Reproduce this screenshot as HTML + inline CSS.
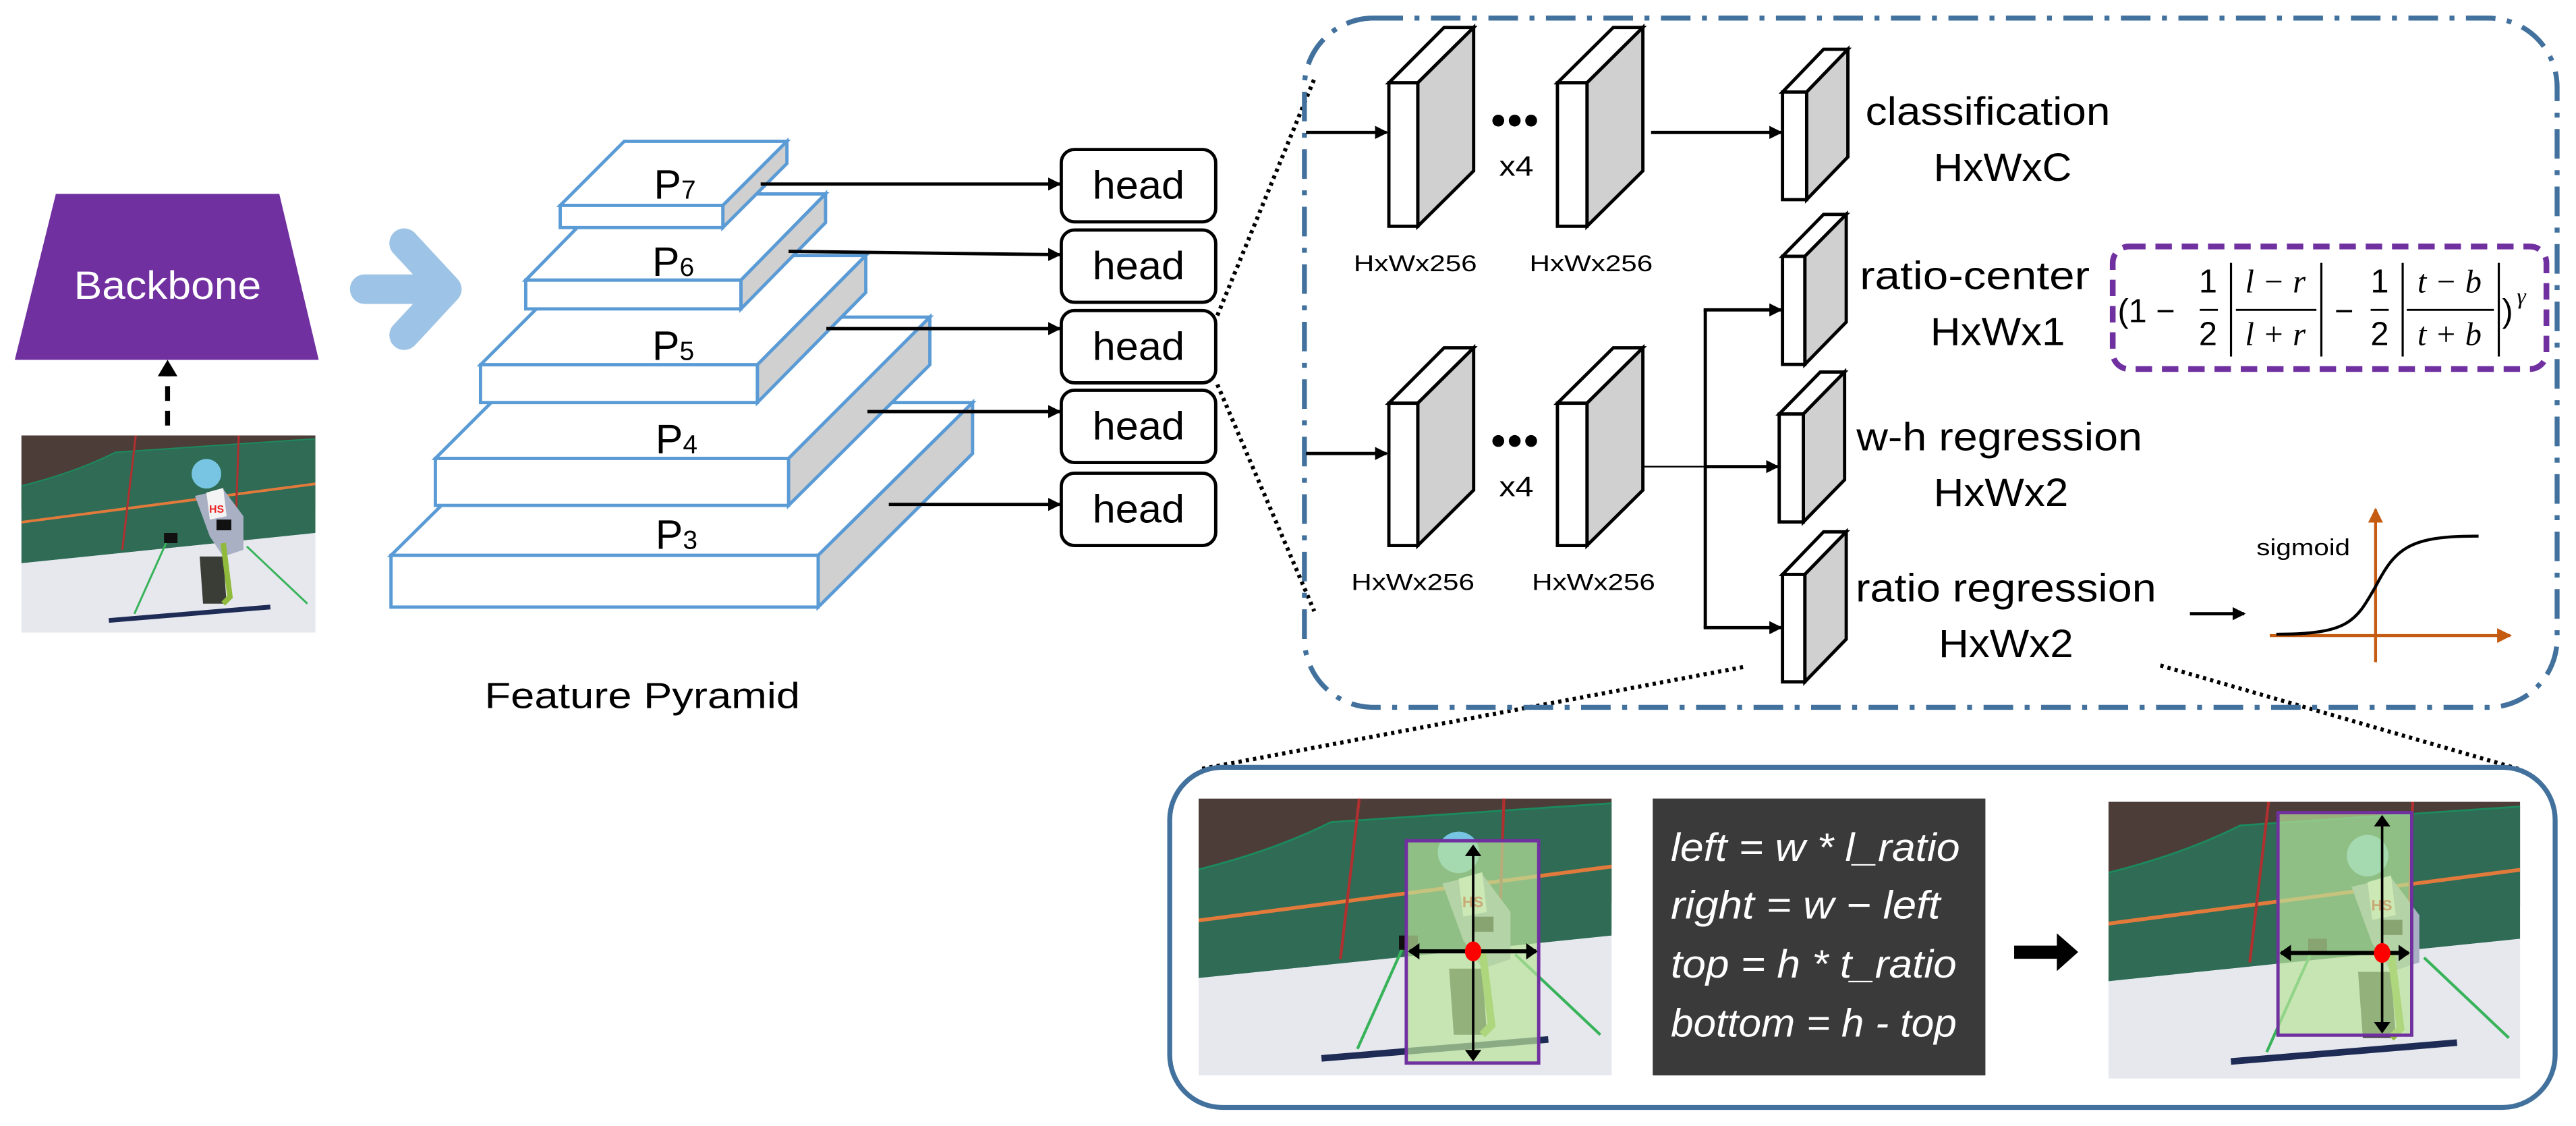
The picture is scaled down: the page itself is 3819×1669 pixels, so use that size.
<!DOCTYPE html>
<html><head><meta charset="utf-8"><style>
html,body{margin:0;padding:0;background:#fff;width:3819px;height:1669px;overflow:hidden;}
svg{display:block;}
text{font-family:"Liberation Sans",sans-serif;}
.it{font-family:"Liberation Serif",serif;font-style:italic;}
</style></head><body>
<svg width="3819" height="1669" viewBox="0 0 1568 685.3" preserveAspectRatio="none" xmlns="http://www.w3.org/2000/svg">
<defs>
<marker id="ah" markerWidth="8" markerHeight="8" refX="7" refY="4" orient="auto" markerUnits="userSpaceOnUse"><path d="M0,0 L8,4 L0,8 Z" fill="#000"/></marker>
<marker id="ahs" markerWidth="7" markerHeight="10" refX="6" refY="5" orient="auto-start-reverse" markerUnits="userSpaceOnUse"><path d="M0,0 L7,5 L0,10 Z" fill="#000"/></marker>
<marker id="aho" markerWidth="9" markerHeight="9" refX="8" refY="4.5" orient="auto" markerUnits="userSpaceOnUse"><path d="M0,0 L9,4.5 L0,9 Z" fill="#c55a11"/></marker>
<g id="scenebody">
<rect width="437" height="293" fill="#e9ebf1"/>
<path d="M0,0 H437 V110 H0 Z" fill="#4d3d38"/>
<path d="M0,75 Q80,55 140,25 L437,5 V145 L0,190 Z" fill="#2f6b55"/>
<path d="M0,75 Q80,55 140,25 L437,5" fill="none" stroke="#1c8a5e" stroke-width="2"/>
<path d="M0,129 L437,72" stroke="#e27a3c" stroke-width="4"/>
<path d="M0,190 L437,145 V293 H0 Z" fill="#e6e8ee"/>
<line x1="170" y1="0" x2="150" y2="170" stroke="#b03030" stroke-width="3"/>
<line x1="323" y1="0" x2="318" y2="150" stroke="#b03030" stroke-width="3"/>
<circle cx="275" cy="57" r="22" fill="#77c5e3"/>
<path d="M258,90 L300,80 L330,120 L330,170 L300,180 L280,150 Z" fill="#a9b0c4"/>
<path d="M275,85 L300,78 L305,120 L280,125 Z" fill="#f4f4f4"/>
<text x="279" y="115" font-size="16" fill="#e22" font-weight="bold">HS</text>
<path d="M265,180 L300,180 L305,250 L270,250 Z" fill="#3a3d35"/>
<path d="M300,160 L310,240 L300,250" stroke="#8fba3b" stroke-width="8" fill="none"/>
<line x1="215" y1="160" x2="168" y2="265" stroke="#38b35a" stroke-width="3"/>
<line x1="335" y1="165" x2="425" y2="250" stroke="#38b35a" stroke-width="3"/>
<path d="M130,275 L370,255" stroke="#1e2b55" stroke-width="7"/>
<rect x="212" y="145" width="20" height="15" fill="#111"/>
<rect x="290" y="125" width="22" height="16" fill="#111"/>
</g>
</defs>

<!-- Backbone -->
<polygon points="34,118 170,118 194,219 9,219" fill="#7030a0"/>
<text x="102" y="182" font-size="24" fill="#fff" text-anchor="middle" textLength="114" lengthAdjust="spacingAndGlyphs">Backbone</text>
<line x1="102" y1="259" x2="102" y2="228" stroke="#000" stroke-width="3" stroke-dasharray="9,6"/>
<path d="M96,229 L102,219 L108,229 Z" fill="#000"/>
<svg x="13" y="265" width="179" height="120" viewBox="0 0 437 293" preserveAspectRatio="none"><use href="#scenebody"/></svg>

<!-- blue chevron -->
<path d="M222,176 L268,176 M246,148 L272,176 L246,204" stroke="#9dc3e6" stroke-width="18" stroke-linecap="round" stroke-linejoin="round" fill="none"/>

<g stroke="#5b9bd5" stroke-width="2" stroke-linejoin="miter">
<polygon points="238,338 332,245 592,245 498,338" fill="#fff"/>
<polygon points="498,338 592,245 592,276 498,369.5" fill="#d0d0d0"/>
<rect x="238" y="338" width="260" height="31.5" fill="#fff"/>
<polygon points="265,279 351,193 566,193 480,279" fill="#fff"/>
<polygon points="480,279 566,193 566,222 480,307.6" fill="#d0d0d0"/>
<rect x="265" y="279" width="215" height="28.6" fill="#fff"/>
<polygon points="292.5,222 359,155.5 527,155.5 461,222" fill="#fff"/>
<polygon points="461,222 527,155.5 527,178 461,245" fill="#d0d0d0"/>
<rect x="292.5" y="222" width="168.5" height="23" fill="#fff"/>
<polygon points="320,170.5 371.5,118 502.5,118 451,170.5" fill="#fff"/>
<polygon points="451,170.5 502.5,118 502.5,135.5 451,188" fill="#d0d0d0"/>
<rect x="320" y="170.5" width="131" height="17.5" fill="#fff"/>
<polygon points="341,125 380,86 479,86 440,125" fill="#fff"/>
<polygon points="440,125 479,86 479,99.5 440,138.5" fill="#d0d0d0"/>
<rect x="341" y="125" width="99" height="13.5" fill="#fff"/>
</g>
<g font-size="25" fill="#000">
<text x="398" y="121">P<tspan font-size="16">7</tspan></text>
<text x="397" y="168">P<tspan font-size="16">6</tspan></text>
<text x="397" y="219">P<tspan font-size="16">5</tspan></text>
<text x="399" y="276">P<tspan font-size="16">4</tspan></text>
<text x="399" y="334">P<tspan font-size="16">3</tspan></text>
</g>
<g stroke="#000" stroke-width="2" marker-end="url(#ah)">
<line x1="463" y1="112" x2="645" y2="112"/>
<line x1="480" y1="153" x2="645" y2="155"/>
<line x1="503" y1="200" x2="645" y2="200"/>
<line x1="528" y1="250.5" x2="645" y2="250.5"/>
<line x1="541" y1="307" x2="645" y2="307"/>
</g>
<g fill="#fff" stroke="#000" stroke-width="2">
<rect x="646" y="91" width="94" height="44" rx="8"/>
<rect x="646" y="140" width="94" height="44" rx="8"/>
<rect x="646" y="189" width="94" height="44" rx="8"/>
<rect x="646" y="237.5" width="94" height="44" rx="8"/>
<rect x="646" y="288" width="94" height="44" rx="8"/>
</g>
<g font-size="24" text-anchor="middle">
<text x="693" y="121" textLength="56" lengthAdjust="spacingAndGlyphs">head</text>
<text x="693" y="170" textLength="56" lengthAdjust="spacingAndGlyphs">head</text>
<text x="693" y="219" textLength="56" lengthAdjust="spacingAndGlyphs">head</text>
<text x="693" y="267.5" textLength="56" lengthAdjust="spacingAndGlyphs">head</text>
<text x="693" y="318" textLength="56" lengthAdjust="spacingAndGlyphs">head</text>
</g>
<text x="391" y="431" font-size="22" text-anchor="middle" textLength="192" lengthAdjust="spacingAndGlyphs">Feature Pyramid</text>

<g stroke="#000" stroke-width="2.5" stroke-dasharray="2,2.5" fill="none">
<line x1="741" y1="192" x2="800" y2="48"/>
<line x1="741" y1="234" x2="800" y2="372"/>
<line x1="1061" y1="406" x2="731" y2="468"/>
<line x1="1315" y1="405" x2="1533" y2="468"/>
</g>

<rect x="794" y="11" width="762.5" height="419.5" rx="42" fill="none" stroke="#41719c" stroke-width="3" stroke-dasharray="18,7,3,7"/>

<g stroke="#000" stroke-width="2">
<polygon points="845.4,50.4 879,16.7 897,16.7 863,50.4" fill="#fff"/>
<polygon points="863,50.4 897,16.7 897,104 863,137.7" fill="#d0d0d0"/>
<rect x="845.4" y="50.4" width="17.6" height="87.3" fill="#fff"/>
<polygon points="948,50.4 982,16.7 1000,16.7 966,50.4" fill="#fff"/>
<polygon points="966,50.4 1000,16.7 1000,104 966,137.7" fill="#d0d0d0"/>
<rect x="948" y="50.4" width="18" height="87.3" fill="#fff"/>
<polygon points="845.4,245.4 879,211.7 897,211.7 863,245.4" fill="#fff"/>
<polygon points="863,245.4 897,211.7 897,298.3 863,332" fill="#d0d0d0"/>
<rect x="845.4" y="245.4" width="17.6" height="86.6" fill="#fff"/>
<polygon points="948,245.4 982,211.7 1000,211.7 966,245.4" fill="#fff"/>
<polygon points="966,245.4 1000,211.7 1000,298.3 966,332" fill="#d0d0d0"/>
<rect x="948" y="245.4" width="18" height="86.6" fill="#fff"/>
<polygon points="1085,56 1110,30 1124.8,30 1099.7,56" fill="#fff"/>
<polygon points="1099.7,56 1124.8,30 1124.8,95.5 1099.7,121.5" fill="#d0d0d0"/>
<rect x="1085" y="56" width="14.7" height="65.5" fill="#fff"/>
<polygon points="1085,156 1110,130.5 1123.8,130.5 1098.6,156" fill="#fff"/>
<polygon points="1098.6,156 1123.8,130.5 1123.8,196 1098.6,221.8" fill="#d0d0d0"/>
<rect x="1085" y="156" width="13.6" height="65.8" fill="#fff"/>
<polygon points="1083,252 1108,226.4 1122.8,226.4 1097.7,252" fill="#fff"/>
<polygon points="1097.7,252 1122.8,226.4 1122.8,292 1097.7,317.7" fill="#d0d0d0"/>
<rect x="1083" y="252" width="14.7" height="65.7" fill="#fff"/>
<polygon points="1085,349.6 1110,323.7 1123.8,323.7 1098.6,349.6" fill="#fff"/>
<polygon points="1098.6,349.6 1123.8,323.7 1123.8,389 1098.6,415" fill="#d0d0d0"/>
<rect x="1085" y="349.6" width="13.6" height="65.4" fill="#fff"/>
</g>
<g fill="#000">
<circle cx="912" cy="73.4" r="3.6"/><circle cx="922" cy="73.4" r="3.6"/><circle cx="932" cy="73.4" r="3.6"/>
<circle cx="912" cy="268.4" r="3.6"/><circle cx="922" cy="268.4" r="3.6"/><circle cx="932" cy="268.4" r="3.6"/>
</g>
<g font-size="17" text-anchor="middle">
<text x="923" y="107" textLength="21" lengthAdjust="spacingAndGlyphs">x4</text>
<text x="923" y="302" textLength="21" lengthAdjust="spacingAndGlyphs">x4</text>
</g>
<g font-size="14" text-anchor="middle">
<text x="861.5" y="165" textLength="75" lengthAdjust="spacingAndGlyphs">HxWx256</text>
<text x="968.5" y="165" textLength="75" lengthAdjust="spacingAndGlyphs">HxWx256</text>
<text x="860" y="359" textLength="75" lengthAdjust="spacingAndGlyphs">HxWx256</text>
<text x="970" y="359" textLength="75" lengthAdjust="spacingAndGlyphs">HxWx256</text>
</g>
<g stroke="#000" stroke-width="2" fill="none">
<line x1="795" y1="80.6" x2="844" y2="80.6" marker-end="url(#ah)"/>
<line x1="1005" y1="80.6" x2="1084" y2="80.6" marker-end="url(#ah)"/>
<line x1="795" y1="276" x2="844" y2="276" marker-end="url(#ah)"/>
<line x1="1001" y1="284" x2="1038" y2="284" stroke-width="1"/>
<line x1="1038" y1="188.6" x2="1038" y2="382"/>
<line x1="1037" y1="188.6" x2="1084" y2="188.6" marker-end="url(#ah)"/>
<line x1="1038" y1="284" x2="1082" y2="284" marker-end="url(#ah)"/>
<line x1="1037" y1="382" x2="1084" y2="382" marker-end="url(#ah)"/>
</g>
<g font-size="24" text-anchor="middle">
<text x="1210" y="76" textLength="149" lengthAdjust="spacingAndGlyphs">classification</text>
<text x="1219" y="110" textLength="84" lengthAdjust="spacingAndGlyphs">HxWxC</text>
<text x="1202" y="176" textLength="140" lengthAdjust="spacingAndGlyphs">ratio-center</text>
<text x="1216" y="210" textLength="82" lengthAdjust="spacingAndGlyphs">HxWx1</text>
<text x="1217" y="274" textLength="174" lengthAdjust="spacingAndGlyphs">w-h regression</text>
<text x="1218" y="308" textLength="82" lengthAdjust="spacingAndGlyphs">HxWx2</text>
<text x="1221" y="366" textLength="183" lengthAdjust="spacingAndGlyphs">ratio regression</text>
<text x="1221" y="400" textLength="82" lengthAdjust="spacingAndGlyphs">HxWx2</text>
</g>

<rect x="1286" y="150" width="264" height="74.6" rx="10" fill="none" stroke="#7030a0" stroke-width="3.5" stroke-dasharray="10,6"/>
<g font-family="Liberation Serif,serif" font-size="20" fill="#000">
<text x="1289" y="196">(1 −</text>
<text x="1344" y="178" text-anchor="middle">1</text>
<line x1="1339" y1="188.6" x2="1350" y2="188.6" stroke="#000" stroke-width="1.2"/>
<text x="1344" y="210" text-anchor="middle">2</text>
<line x1="1358" y1="160" x2="1358" y2="217" stroke="#000" stroke-width="1.3"/>
<text class="it" x="1385" y="178" text-anchor="middle">l − r</text>
<line x1="1361" y1="188.6" x2="1410" y2="188.6" stroke="#000" stroke-width="1.2"/>
<text class="it" x="1385" y="210" text-anchor="middle">l + r</text>
<line x1="1413" y1="160" x2="1413" y2="217" stroke="#000" stroke-width="1.3"/>
<text x="1421" y="196">−</text>
<text x="1448.5" y="178" text-anchor="middle">1</text>
<line x1="1443" y1="188.6" x2="1454" y2="188.6" stroke="#000" stroke-width="1.2"/>
<text x="1448.5" y="210" text-anchor="middle">2</text>
<line x1="1462.5" y1="160" x2="1462.5" y2="217" stroke="#000" stroke-width="1.3"/>
<text class="it" x="1491" y="178" text-anchor="middle">t − b</text>
<line x1="1465" y1="188.6" x2="1518" y2="188.6" stroke="#000" stroke-width="1.2"/>
<text class="it" x="1491" y="210" text-anchor="middle">t + b</text>
<line x1="1521" y1="160" x2="1521" y2="217" stroke="#000" stroke-width="1.3"/>
<text x="1523" y="196">)</text>
<text class="it" x="1532" y="185" font-size="14">γ</text>
</g>

<line x1="1333" y1="373.5" x2="1366" y2="373.5" stroke="#000" stroke-width="2" marker-end="url(#ah)"/>
<text x="1402" y="338" font-size="14" text-anchor="middle" textLength="57" lengthAdjust="spacingAndGlyphs">sigmoid</text>
<line x1="1446" y1="403" x2="1446" y2="310" stroke="#c55a11" stroke-width="1.8" marker-end="url(#aho)"/>
<line x1="1381.6" y1="386.8" x2="1528" y2="386.8" stroke="#c55a11" stroke-width="1.8" marker-end="url(#aho)"/>
<path d="M1385.6,386 C1430,386 1434,378 1446,357 C1458,334 1466,326 1508.7,326.3" fill="none" stroke="#000" stroke-width="1.8"/>

<rect x="712" y="467" width="843.3" height="207" rx="32" fill="none" stroke="#41719c" stroke-width="3"/>
<svg x="729.6" y="486" width="251.4" height="168.5" viewBox="0 0 437 293" preserveAspectRatio="none"><use href="#scenebody"/></svg>
<svg x="1283.4" y="488" width="250.6" height="168.4" viewBox="0 0 437 293" preserveAspectRatio="none"><use href="#scenebody"/></svg>
<rect x="856" y="511.7" width="80.6" height="135.3" fill="#b9e39a" fill-opacity="0.7" stroke="#7030a0" stroke-width="2"/>
<line x1="896.7" y1="645" x2="896.7" y2="515" stroke="#000" stroke-width="1.5" marker-end="url(#ahs)" marker-start="url(#ahs)"/>
<line x1="858" y1="579" x2="935" y2="579" stroke="#000" stroke-width="2.5" marker-end="url(#ahs)" marker-start="url(#ahs)"/>
<ellipse cx="896.7" cy="579" rx="5" ry="6" fill="#f00"/>
<rect x="1386.6" y="494.6" width="81.4" height="135.4" fill="#b9e39a" fill-opacity="0.7" stroke="#7030a0" stroke-width="2"/>
<line x1="1450" y1="628" x2="1450" y2="497" stroke="#000" stroke-width="1.5" marker-end="url(#ahs)" marker-start="url(#ahs)"/>
<line x1="1388.5" y1="580" x2="1466" y2="580" stroke="#000" stroke-width="2.5" marker-end="url(#ahs)" marker-start="url(#ahs)"/>
<ellipse cx="1450" cy="580" rx="5" ry="6" fill="#f00"/>
<rect x="1006" y="486" width="202.5" height="168.5" fill="#3a3a3a"/>
<g class="it" font-size="24" fill="#fff">
<text x="1017" y="524" textLength="176" lengthAdjust="spacingAndGlyphs">left = w * l_ratio</text>
<text x="1017" y="559" textLength="164" lengthAdjust="spacingAndGlyphs">right = w − left</text>
<text x="1017" y="595" textLength="174" lengthAdjust="spacingAndGlyphs">top = h * t_ratio</text>
<text x="1017" y="631" textLength="174" lengthAdjust="spacingAndGlyphs">bottom = h - top</text>
</g>
<path d="M1226,575.5 L1252,575.5 L1252,568 L1265,579.4 L1252,591 L1252,583.5 L1226,583.5 Z" fill="#000"/>
</svg>
</body></html>
